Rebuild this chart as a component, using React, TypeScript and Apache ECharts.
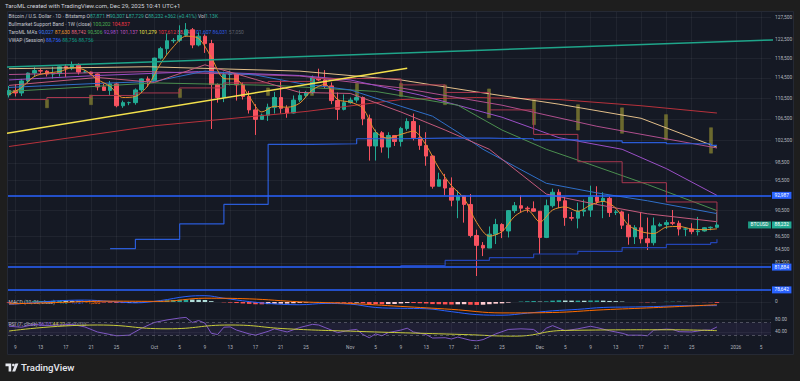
import React, { useEffect, useRef } from 'react';
import * as echarts from 'echarts';

const FONT = 'Roboto, "Noto Sans", sans-serif';
const FIRST_DAY = '2025-09-08';

// Daily OHLC (thousand USD) from FIRST_DAY to 2025-12-29
const opens = [
  111.1, 112.0, 111.5, 113.9, 115.5, 116.0, 115.9, 115.3, 115.4, 116.8, 116.5, 117.1, 115.7, 115.7, 115.3, 112.7, 112.0, 113.3, 109.0, 109.6, 109.6, 112.1, 114.3,
  114.0, 118.6, 120.6, 122.3, 122.4, 123.5, 124.7, 121.4, 123.3, 121.7, 113.2, 110.6, 115.2, 115.3, 113.1, 110.8, 108.2, 106.4, 107.2, 108.7, 110.6, 108.5, 107.6, 110.1, 111.0, 111.6, 114.5, 114.1, 112.9, 110.0, 108.3,
  109.6, 110.1, 110.6, 106.5, 101.5, 103.9, 101.3, 103.4, 102.3, 104.7, 106.0, 103.0, 101.6, 99.7, 94.5, 95.6, 94.2, 92.2, 92.9, 91.5, 86.6, 85.1, 84.7, 86.8, 88.3, 87.3, 90.5, 91.3, 90.9, 90.8,
  90.4, 86.3, 91.3, 93.5, 92.1, 89.4, 89.3, 90.4, 90.6, 92.7, 92.0, 92.5, 90.2, 90.3, 88.2, 86.4, 87.8, 86.1, 85.5, 88.1, 88.3, 88.6, 88.5, 87.6, 87.6, 87.2, 87.3, 87.8, 87.871,
];
const highs = [
  112.9, 113.2, 114.3, 115.6, 116.7, 116.4, 116.1, 116.8, 117.0, 117.3, 117.9, 117.5, 116.1, 115.8, 115.4, 113.3, 113.9, 113.5, 110.0, 109.8, 112.4, 114.4, 114.8,
  118.7, 121.0, 123.9, 122.9, 125.7, 126.2, 125.1, 124.1, 123.7, 122.5, 113.4, 115.8, 116.0, 115.4, 113.6, 111.9, 109.3, 107.5, 109.4, 111.7, 114.0, 109.1, 111.0, 112.0, 111.9, 115.0, 116.4, 116.1, 113.6, 111.6, 111.2,
  110.6, 111.2, 110.8, 107.3, 104.5, 104.2, 104.0, 103.4, 105.0, 106.6, 107.5, 105.3, 104.0, 99.8, 96.8, 96.6, 96.0, 93.8, 92.9, 93.2, 87.5, 85.6, 88.0, 89.2, 88.5, 90.6, 91.9, 93.0, 91.2, 92.0,
  90.4, 92.3, 94.1, 94.0, 92.7, 90.3, 91.8, 92.3, 94.6, 94.5, 93.5, 92.8, 90.6, 90.5, 90.0, 88.2, 90.3, 89.4, 89.4, 88.6, 89.0, 90.6, 88.9, 87.9, 88.5, 89.5, 87.9, 88.0, 90.307,
];
const lows = [
  110.6, 110.8, 110.9, 113.4, 114.7, 115.2, 114.8, 114.4, 114.8, 114.7, 116.1, 115.2, 115.5, 115.2, 112.0, 111.9, 111.1, 108.7, 108.6, 109.1, 109.2, 111.6, 112.7,
  113.9, 118.3, 119.3, 121.8, 122.0, 123.2, 120.7, 121.1, 119.7, 104.6, 109.6, 109.7, 113.0, 110.0, 110.2, 107.5, 103.5, 106.4, 106.1, 107.5, 107.5, 106.7, 107.5, 109.7, 110.7, 111.3, 113.9, 112.3, 109.3, 106.3, 108.1,
  109.4, 109.6, 105.3, 98.9, 98.9, 100.3, 99.3, 101.5, 101.4, 104.3, 102.5, 100.8, 98.0, 94.1, 94.5, 93.0, 91.2, 89.3, 88.6, 86.3, 80.6, 83.5, 84.7, 85.3, 86.2, 86.3, 90.1, 90.2, 90.2, 90.3,
  83.8, 86.2, 91.0, 90.9, 88.1, 88.9, 87.7, 89.6, 89.5, 91.6, 89.3, 89.5, 89.8, 87.6, 85.2, 85.3, 85.4, 84.4, 85.1, 88.0, 87.6, 88.2, 86.6, 86.5, 86.8, 86.6, 87.2, 87.4, 87.729,
];
const closes = [
  112.0, 111.5, 113.9, 115.5, 116.0, 115.9, 115.3, 115.4, 116.8, 116.5, 117.1, 115.7, 115.7, 115.3, 112.7, 112.0, 113.3, 109.0, 109.6, 109.6, 112.1, 114.3, 114.0,
  118.6, 120.6, 122.3, 122.4, 123.5, 124.7, 121.4, 123.3, 121.7, 113.2, 110.6, 115.2, 115.3, 113.1, 110.8, 108.2, 106.4, 107.2, 108.7, 110.6, 108.5, 107.6, 110.1, 111.0, 111.6, 114.5, 114.1, 112.9, 110.0, 108.3, 109.6,
  110.1, 110.6, 106.5, 101.5, 103.9, 101.3, 103.4, 102.3, 104.7, 106.0, 103.0, 101.6, 99.7, 94.5, 95.6, 94.2, 92.2, 92.9, 91.5, 86.6, 85.1, 84.7, 86.8, 88.3, 87.3, 90.5, 91.3, 90.9, 90.8, 90.4,
  86.3, 91.3, 93.5, 92.1, 89.4, 89.3, 90.4, 90.6, 92.7, 92.0, 92.5, 90.2, 90.3, 88.2, 86.4, 87.8, 86.1, 85.5, 88.1, 88.3, 88.6, 88.5, 87.6, 87.6, 87.2, 87.3, 87.8, 87.871, 88.232,
];

// Moving averages (thousand USD)
const maOrange: [string, number][] = [
  ['2025-09-08', 111.2], ['2025-09-10', 112.6], ['2025-09-12', 114.8], ['2025-09-14', 115.5], ['2025-09-16', 115.8], ['2025-09-18', 116.6], ['2025-09-20', 116.1], ['2025-09-22', 114.2], ['2025-09-24', 112.8], ['2025-09-26', 110.6], ['2025-09-28', 110.8], ['2025-09-30', 113.0],
  ['2025-10-02', 117.5], ['2025-10-04', 121.0], ['2025-10-06', 123.3], ['2025-10-08', 122.8], ['2025-10-10', 118.8], ['2025-10-12', 114.4], ['2025-10-14', 114.2], ['2025-10-16', 110.8], ['2025-10-18', 107.8], ['2025-10-20', 108.9], ['2025-10-22', 108.7], ['2025-10-24', 109.5], ['2025-10-26', 112.1], ['2025-10-28', 113.2], ['2025-10-30', 110.2],
  ['2025-11-01', 109.7], ['2025-11-03', 108.5], ['2025-11-05', 104.1], ['2025-11-07', 102.9], ['2025-11-09', 103.6], ['2025-11-11', 104.2], ['2025-11-13', 101.6], ['2025-11-15', 97.6], ['2025-11-17', 94.6], ['2025-11-19', 92.5], ['2025-11-21', 88.6], ['2025-11-23', 86.5], ['2025-11-25', 87.2], ['2025-11-27', 89.6], ['2025-11-29', 90.6],
  ['2025-12-01', 88.7], ['2025-12-03', 90.6], ['2025-12-05', 91.1], ['2025-12-07', 90.4], ['2025-12-09', 91.4], ['2025-12-11', 92.0], ['2025-12-13', 90.9], ['2025-12-15', 88.2], ['2025-12-17', 87.2], ['2025-12-19', 86.9], ['2025-12-21', 87.9], ['2025-12-23', 88.0], ['2025-12-25', 87.6], ['2025-12-27', 87.5], ['2025-12-29', 87.63],
];
const maBlue: [string, number][] = [
  ['2025-09-08', 112.6], ['2025-09-22', 113.4], ['2025-10-01', 113.8], ['2025-10-09', 115.9], ['2025-10-17', 115.1], ['2025-10-24', 113.4], ['2025-11-01', 112.1], ['2025-11-09', 108.9], ['2025-11-14', 107.0], ['2025-11-18', 104.0], ['2025-11-22', 100.9], ['2025-12-02', 95.0], ['2025-12-10', 93.4], ['2025-12-18', 92.1], ['2025-12-29', 90.027],
];
const maPink: [string, number][] = [
  ['2025-09-08', 113.0], ['2025-09-22', 114.6], ['2025-10-01', 113.6], ['2025-10-09', 117.2], ['2025-10-17', 114.2], ['2025-10-24', 111.6], ['2025-11-01', 111.4], ['2025-11-09', 107.8], ['2025-11-16', 104.4], ['2025-11-23', 100.9], ['2025-12-02', 93.2], ['2025-12-10', 91.5], ['2025-12-18', 90.0], ['2025-12-29', 88.742],
];
const maGreen: [string, number][] = [
  ['2025-09-08', 111.8], ['2025-10-01', 113.5], ['2025-10-20', 113.0], ['2025-11-05', 111.8], ['2025-11-18', 109.1], ['2025-11-25', 104.4], ['2025-12-02', 100.9], ['2025-12-08', 98.6], ['2025-12-18', 94.8], ['2025-12-29', 90.506],
];
const maPurple: [string, number][] = [
  ['2025-09-08', 114.1], ['2025-09-22', 115.0], ['2025-10-08', 115.8], ['2025-10-24', 115.0], ['2025-11-01', 114.1], ['2025-11-12', 111.1], ['2025-11-25', 106.8], ['2025-12-04', 103.0], ['2025-12-14', 100.9], ['2025-12-21', 97.5], ['2025-12-29', 92.981],
];
const maMagenta: [string, number][] = [
  ['2025-09-08', 115.2], ['2025-09-30', 115.8], ['2025-10-24', 114.9], ['2025-11-09', 112.5], ['2025-11-25', 109.1], ['2025-12-10', 105.1], ['2025-12-29', 101.137],
];
const maPeach: [string, number][] = [
  ['2025-09-08', 116.4], ['2025-09-30', 116.8], ['2025-10-24', 115.9], ['2025-11-09', 114.1], ['2025-11-21', 111.7], ['2025-12-04', 109.3], ['2025-12-17', 106.6], ['2025-12-29', 101.279],
];
const maRed: [string, number][] = [
  ['2025-09-08', 101.4], ['2025-10-01', 105.2], ['2025-10-25', 107.9], ['2025-11-09', 110.2], ['2025-11-21', 110.6], ['2025-12-04', 110.2], ['2025-12-17', 109.0], ['2025-12-29', 107.6],
];
// weekly (stepped) lines
const maMaroonW: [string, number][] = [
  ['2025-09-08', 110.2], ['2025-09-14', 110.6], ['2025-09-21', 111.0], ['2025-09-28', 111.5], ['2025-10-05', 112.5], ['2025-10-12', 113.5], ['2025-10-19', 113.8], ['2025-10-26', 114.4], ['2025-11-02', 114.3], ['2025-11-09', 113.1], ['2025-11-16', 111.6], ['2025-11-23', 108.2], ['2025-11-30', 103.6], ['2025-12-07', 98.7], ['2025-12-14', 95.1], ['2025-12-21', 91.9], ['2025-12-29', 88.642],
];
const blueStepUpper: [string, number][] = [
  ['2025-09-24', 84.6], ['2025-09-28', 86.0], ['2025-10-05', 88.4], ['2025-10-12', 91.5], ['2025-10-19', 101.8], ['2025-10-26', 101.9], ['2025-11-02', 102.8], ['2025-11-09', 102.9], ['2025-11-16', 102.9], ['2025-11-23', 102.8], ['2025-11-30', 102.6], ['2025-12-07', 102.4], ['2025-12-14', 102.1], ['2025-12-21', 101.9], ['2025-12-28', 101.607], ['2025-12-29', 101.607],
];
const blueStepLower: [string, number][] = [
  ['2025-11-02', 81.9], ['2025-11-09', 82.09], ['2025-11-16', 82.86], ['2025-11-23', 83.26], ['2025-11-30', 83.81], ['2025-12-07', 84.21], ['2025-12-14', 84.76], ['2025-12-21', 85.26], ['2025-12-28', 85.5], ['2025-12-29', 86.031],
];
// Bull market support band, weekly [date, low, high]
const bmsb: [string, number, number][] = [
  ['2025-09-14', 108.6, 110.2], ['2025-09-21', 109.2, 111.1], ['2025-09-28', 109.8, 111.6], ['2025-10-05', 110.6, 112.3], ['2025-10-12', 110.9, 112.6], ['2025-10-19', 111.0, 112.5], ['2025-10-26', 111.0, 112.8], ['2025-11-02', 110.8, 113.4],
  ['2025-11-09', 110.8, 113.4], ['2025-11-16', 109.2, 113.1], ['2025-11-23', 106.7, 112.3], ['2025-11-30', 105.4, 110.2], ['2025-12-07', 104.4, 109.2], ['2025-12-14', 103.8, 108.6], ['2025-12-21', 102.6, 107.3], ['2025-12-28', 100.202, 104.837],
];
// drawn trend lines [date, price]
const tealTrend: [string, number][] = [['2025-09-07', 116710], ['2026-01-07', 122490]];
const yellowTrend: [string, number][] = [['2025-09-07', 103690], ['2025-11-10', 116510]];
const levelLines = [92987, 81884, 78642];
const lastPrice = 88232;
const priceTicks = [127500, 122500, 118500, 114500, 110500, 106500, 102500, 98500, 95500, 90500, 86500, 84500, 82500];

// MACD (USD)
const macdLine: [string, number][] = [
  ['2025-09-08', -1200], ['2025-09-12', -300], ['2025-09-16', 600], ['2025-09-20', 900], ['2025-09-24', 300], ['2025-09-28', -400], ['2025-10-02', 700], ['2025-10-06', 2600], ['2025-10-09', 3000], ['2025-10-12', 1800], ['2025-10-16', 200], ['2025-10-20', -900], ['2025-10-24', -1300], ['2025-10-28', -700],
  ['2025-11-01', -1000], ['2025-11-05', -2600], ['2025-11-09', -3000], ['2025-11-13', -3200], ['2025-11-17', -4600], ['2025-11-21', -6000], ['2025-11-25', -6300], ['2025-11-29', -5300], ['2025-12-03', -4200], ['2025-12-07', -3500], ['2025-12-11', -2600], ['2025-12-15', -2400], ['2025-12-19', -2200], ['2025-12-23', -1800], ['2025-12-29', -1721],
];
const macdSignal: [string, number][] = [
  ['2025-09-08', -900], ['2025-09-16', -200], ['2025-09-24', 400], ['2025-10-02', 300], ['2025-10-09', 1800], ['2025-10-16', 1500], ['2025-10-24', 100], ['2025-11-01', -700], ['2025-11-09', -2100], ['2025-11-17', -3500], ['2025-11-25', -5200], ['2025-12-03', -5000], ['2025-12-11', -3700], ['2025-12-19', -2700], ['2025-12-29', -1305],
];
const macdHist = [
  -300, -150, 50, 200, 350, 450, 500, 550, 600, 550, 500, 400, 300, 150, -100, -250, -300, -450, -500, -450, -300, -150, 0,
  250, 500, 800, 950, 1100, 1200, 1150, 1050, 950, 400, 0, -150, -300, -500, -700, -900, -1100, -1100, -1000, -850, -800, -750, -600, -450, -300, -100, 50, 0, -150, -300, -350,
  -350, -300, -600, -1000, -1000, -1100, -1000, -950, -700, -500, -500, -600, -700, -1000, -1050, -1150, -1200, -1100, -1050, -1300, -1400, -1300, -1050, -800, -650, -300, 0, 200, 350, 450,
  200, 300, 650, 800, 700, 650, 650, 600, 700, 700, 650, 500, 400, 200, 0, 0, -100, -200, -100, 0, 100, 150, 100, 50, 0, -50, -100, -150, -416,
];

// RSI (7) and its average
const rsi: [string, number][] = [
  ['2025-09-08', 58], ['2025-09-10', 55], ['2025-09-12', 64], ['2025-09-14', 60], ['2025-09-16', 62], ['2025-09-18', 64], ['2025-09-20', 56], ['2025-09-22', 40], ['2025-09-23', 36], ['2025-09-25', 28], ['2025-09-27', 30], ['2025-09-29', 52],
  ['2025-10-01', 70], ['2025-10-03', 78], ['2025-10-05', 84], ['2025-10-06', 86], ['2025-10-07', 70], ['2025-10-08', 76], ['2025-10-09', 68], ['2025-10-10', 36], ['2025-10-11', 32], ['2025-10-12', 55], ['2025-10-13', 56], ['2025-10-14', 46], ['2025-10-15', 40], ['2025-10-16', 34], ['2025-10-17', 30], ['2025-10-19', 42], ['2025-10-20', 50], ['2025-10-22', 40], ['2025-10-24', 54], ['2025-10-26', 64], ['2025-10-27', 62], ['2025-10-28', 54], ['2025-10-30', 38],
  ['2025-11-01', 46], ['2025-11-02', 48], ['2025-11-03', 32], ['2025-11-04', 22], ['2025-11-05', 34], ['2025-11-06', 28], ['2025-11-07', 38], ['2025-11-09', 46], ['2025-11-10', 52], ['2025-11-11', 40], ['2025-11-13', 32], ['2025-11-14', 21], ['2025-11-16', 22], ['2025-11-17', 18], ['2025-11-18', 24], ['2025-11-20', 14], ['2025-11-21', 12], ['2025-11-22', 16], ['2025-11-24', 34], ['2025-11-26', 48], ['2025-11-28', 50], ['2025-11-30', 48],
  ['2025-12-01', 33], ['2025-12-02', 52], ['2025-12-03', 60], ['2025-12-05', 44], ['2025-12-07', 50], ['2025-12-09', 58], ['2025-12-10', 54], ['2025-12-12', 44], ['2025-12-14', 36], ['2025-12-15', 30], ['2025-12-17', 30], ['2025-12-18', 28], ['2025-12-19', 46], ['2025-12-21', 49], ['2025-12-22', 48], ['2025-12-23', 41], ['2025-12-25', 40], ['2025-12-27', 46], ['2025-12-28', 46], ['2025-12-29', 56.03],
];
const rsiMA: [string, number][] = [
  ['2025-09-08', 43], ['2025-09-22', 62], ['2025-10-03', 50], ['2025-10-13', 62], ['2025-10-22', 50], ['2025-11-02', 42], ['2025-11-19', 32], ['2025-11-27', 27], ['2025-12-05', 45], ['2025-12-21', 47], ['2025-12-29', 44.22],
];

const tickDates = [
  '2025-09-09', '2025-09-13', '2025-09-17', '2025-09-21', '2025-09-25', '2025-10-01', '2025-10-05', '2025-10-09', '2025-10-13', '2025-10-17', '2025-10-21', '2025-10-25',
  '2025-11-01', '2025-11-05', '2025-11-09', '2025-11-13', '2025-11-17', '2025-11-21', '2025-11-25', '2025-12-01', '2025-12-05', '2025-12-09', '2025-12-13', '2025-12-17', '2025-12-21', '2025-12-25', '2026-01-01', '2026-01-05',
];
const tickLabels = ['9', '13', '17', '21', '25', 'Oct', '5', '9', '13', '17', '21', '25', 'Nov', '5', '9', '13', '17', '21', '25', 'Dec', '5', '9', '13', '17', '21', '25', '2026', '5'];

const T0 = Date.UTC(2025, 8, 9);
function dayIdx(s: string): number {
  const [y, m, d] = s.split('-').map(Number);
  return (Date.UTC(y, m - 1, d) - T0) / 86400000;
}
const fmt = (v: number) => Math.round(v).toLocaleString('en-US');

const GRID = 'rgba(255,255,255,0.05)';
const LBL = '#b2b5be';
const UP = '#22ab94';
const DOWN = '#f7525f';
const OLIVE = 'rgba(122,120,48,0.85)';

function rich(parts: [string, string][], size = 5) {
  const r: any = {};
  const text = parts
    .map(([t, c], i) => {
      r['p' + i] = { fill: c, fontSize: size, fontFamily: FONT };
      return `{p${i}|${t}}`;
    })
    .join('');
  return { text, rich: r };
}

export default function App() {
  const ref = useRef<HTMLDivElement>(null);
  useEffect(() => {
    const chart = echarts.init(ref.current!, undefined, { renderer: 'svg' });
    const X0 = -1.155;
    const X1 = 119.55;
    const tickVals = tickDates.map(dayIdx);
    const d0 = dayIdx(FIRST_DAY);
    const candleData = closes.map((c, i) => [d0 + i, opens[i] * 1000, c * 1000, lows[i] * 1000, highs[i] * 1000]);
    const bandData = bmsb.map(([d, lo, hi]) => [dayIdx(d), lo * 1000, hi * 1000, lo * 1000, hi * 1000]);
    const k = (arr: [string, number][]) => arr.map(([d, v]) => [dayIdx(d), v * 1000]);
    const raw = (arr: [string, number][]) => arr.map(([d, v]) => [dayIdx(d), v]);

    const mkLine = (data: any[], color: string, extra: any = {}) => ({
      type: 'line',
      xAxisIndex: 0,
      yAxisIndex: 0,
      data,
      symbol: 'none',
      showSymbol: false,
      silent: true,
      z: 4,
      lineStyle: { color, width: 1 },
      ...extra,
    });

    const xAxisBase = (gi: number, showLabels: boolean) => ({
      type: 'value',
      gridIndex: gi,
      min: X0,
      max: X1,
      axisLine: { show: false },
      axisTick: { show: false, customValues: tickVals },
      splitLine: { show: true, lineStyle: { color: GRID, width: 1 } },
      axisLabel: {
        show: showLabels,
        customValues: tickVals,
        color: LBL,
        fontSize: 4.8,
        fontFamily: FONT,
        margin: 4,
        formatter: (v: number) => {
          const i = tickVals.findIndex((t) => Math.abs(t - v) < 0.01);
          return i >= 0 ? tickLabels[i] : '';
        },
      },
    });

    const histColors = macdHist.map((v, i) => {
      const p = i > 0 ? macdHist[i - 1] : v;
      if (v >= 0) return v >= p ? '#26a69a' : '#b2dfdb';
      return v <= p ? '#ff5252' : '#ffcdd2';
    });

    const graphics: any[] = [
      { type: 'rect', id: 'panel', z: -10, shape: { x: 7.5, y: 11.5, width: 786, height: 343 }, style: { fill: '#151924', stroke: '#252934', lineWidth: 1 } },
      { type: 'text', id: 'hdr', x: 5, y: 5, z: 10, style: { text: 'TaroML created with TradingView.com, Dec 29, 2025 10:41 UTC+1', fill: '#d1d4dc', fontSize: 6, fontFamily: FONT, verticalAlign: 'middle' } },
      { type: 'text', id: 'lg1', x: 8.5, y: 16.3, z: 1, style: { ...rich([['Bitcoin / U.S. Dollar · 1D · Bitstamp ', '#c3c6ce'], ['O', '#c3c6ce'], ['87,871 ', UP], ['H', '#c3c6ce'], ['90,307 ', UP], ['L', '#c3c6ce'], ['87,729 ', UP], ['C', '#c3c6ce'], ['88,232 ', UP], ['+362 (+0.41%) ', UP], ['Vol', '#c3c6ce'], ['1.13K', UP]]), verticalAlign: 'middle' } },
      { type: 'text', id: 'lg2', x: 8.5, y: 24.2, z: 1, style: { ...rich([['Bullmarket Support Band · 1W (close) ', '#c3c6ce'], ['100,202 ', '#4caf50'], ['104,837', '#f23645']]), verticalAlign: 'middle' } },
      { type: 'text', id: 'lg3', x: 8.5, y: 32.4, z: 1, style: { ...rich([["TaroML MA's ", '#c3c6ce'], ['90,027 ', '#3d7bf0'], ['87,630 ', '#f0962e'], ['88,742 ', '#e0647f'], ['90,506 ', '#4fae55'], ['92,981 ', '#a64fd6'], ['101,137 ', '#c154c1'], ['101,279 ', '#ebe04a'], ['107,612 ', '#f23645'], ['88,642 ', '#e35f7a'], ['101,607 ', '#3468f0'], ['86,031 ', '#2f5ae0'], ['57,050', '#5d606b']]), verticalAlign: 'middle' } },
      { type: 'text', id: 'lg4', x: 8.5, y: 40.4, z: 1, style: { ...rich([['VWAP (Session) ', '#c3c6ce'], ['88,756 ', '#2962ff'], ['88,756 ', '#089981'], ['88,756', '#089981']]), verticalAlign: 'middle' } },
      { type: 'text', id: 'lgm', x: 8.5, y: 302, z: 1, style: { ...rich([['MACD (12, 26, close) ', '#c3c6ce'], ['−416 ', '#26a69a'], ['−1,721 ', '#2962ff'], ['−1,305', '#ff6d00']]), verticalAlign: 'middle' } },
      { type: 'text', id: 'lgr', x: 8.5, y: 323.5, z: 1, style: { ...rich([['RSI (7, close) ', '#c3c6ce'], ['56.03 ', '#9c6fe0'], ['44.22 ', '#e6e03c'], ['∅ ∅ ∅ ∅', '#c3c6ce']]), verticalAlign: 'middle' } },
      { type: 'polygon', id: 'tv1', z: 10, shape: { points: [[5.5, 363.6], [11.2, 363.6], [11.2, 371.6], [8.6, 371.6], [8.6, 366.2], [5.5, 366.2]] }, style: { fill: '#e6e8ee' } },
      { type: 'circle', id: 'tv2', z: 10, shape: { cx: 13.4, cy: 365, r: 1.35 }, style: { fill: '#e6e8ee' } },
      { type: 'polygon', id: 'tv3', z: 10, shape: { points: [[15.4, 363.6], [18.4, 363.6], [15.2, 371.6], [12.2, 371.6]] }, style: { fill: '#e6e8ee' } },
      { type: 'text', id: 'tvt', x: 21, y: 367.8, z: 10, style: { text: 'TradingView', fill: '#e6e8ee', fontSize: 9.6, fontWeight: 500, fontFamily: FONT, verticalAlign: 'middle' } },
    ];

    const option: any = {
      animation: false,
      backgroundColor: '#1e1e1e',
      textStyle: { fontFamily: FONT },
      grid: [
        { left: 8, right: 29, top: 12, height: 282 },
        { left: 8, right: 29, top: 295, height: 22 },
        { left: 8, right: 29, top: 317, height: 24 },
      ],
      xAxis: [xAxisBase(0, false), xAxisBase(1, false), xAxisBase(2, true)],
      yAxis: [
        { type: 'log', logBase: 10, gridIndex: 0, min: 78070, max: 128704, position: 'right', axisLine: { show: false }, axisTick: { show: false }, axisLabel: { show: false }, splitLine: { show: false } },
        {
          type: 'value', gridIndex: 1, min: -7143, max: 3333, position: 'right', axisLine: { show: false },
          axisTick: { show: false, customValues: [0] }, splitLine: { show: true, lineStyle: { color: GRID } },
          axisLabel: { customValues: [0], color: LBL, fontSize: 4.8, margin: 4, formatter: () => '0' },
        },
        {
          type: 'value', gridIndex: 2, min: 11.65, max: 87.2, position: 'right', axisLine: { show: false },
          axisTick: { show: false, customValues: [40, 80] }, splitLine: { show: true, lineStyle: { color: GRID } },
          axisLabel: { customValues: [40, 80], color: LBL, fontSize: 4.8, margin: 4, formatter: (v: number) => v.toFixed(2) },
        },
      ],
      graphic: { elements: graphics },
      series: [
        {
          type: 'candlestick', name: 'BMSB', xAxisIndex: 0, yAxisIndex: 0, data: bandData, barWidth: 3.5, z: 2, silent: true,
          itemStyle: { color: OLIVE, color0: OLIVE, borderColor: OLIVE, borderColor0: OLIVE, borderWidth: 0.5 },
          markLine: {
            silent: true, symbol: ['none', 'none'], animation: false,
            lineStyle: { color: GRID, width: 1, type: 'solid' },
            label: { position: 'end', distance: 4, formatter: '{b}', color: LBL, fontSize: 4.8, fontFamily: FONT },
            data: priceTicks.map((p) => ({ yAxis: p, name: fmt(p) })),
          },
        },
        {
          type: 'candlestick', name: 'BTCUSD', xAxisIndex: 0, yAxisIndex: 0, data: candleData, barWidth: 4, z: 3, silent: true,
          itemStyle: { color: UP, color0: DOWN, borderColor: UP, borderColor0: DOWN, borderWidth: 1 },
          markLine: {
            silent: true, symbol: ['none', 'none'], animation: false,
            lineStyle: { color: 'rgba(0,0,0,0)', width: 0.5 },
            label: { show: true, position: 'end', distance: 1, formatter: '{b}', color: '#ffffff', backgroundColor: UP, padding: [1, 2.5], fontSize: 4.8, fontFamily: FONT },
            data: [{ yAxis: lastPrice, name: fmt(lastPrice) }],
          },
        },
        mkLine(k(maRed), '#b8323c'),
        mkLine(k(maPeach), '#e3bf8a'),
        mkLine(k(maMagenta), '#b04f8e'),
        mkLine(k(maPurple), '#9a4fc6'),
        mkLine(k(maGreen), '#4b8f4f'),
        mkLine(k(maBlue), '#2f6fc9'),
        mkLine(k(maPink), '#c45a7c'),
        mkLine(k(maMaroonW), '#a8374f', { step: 'end' }),
        mkLine(k(blueStepUpper), '#2a5bd7', { step: 'end', lineStyle: { color: '#2a5bd7', width: 1.2 } }),
        mkLine(k(blueStepLower), '#2344b5', { step: 'end', lineStyle: { color: '#2344b5', width: 1.2 } }),
        mkLine(k(maOrange), '#e8912d', { smooth: 0.3 }),
        mkLine(
          tealTrend.map(([d, v]) => [dayIdx(d), v]),
          '#1fa58a',
          { lineStyle: { color: '#1fa58a', width: 1.5 }, z: 5 }
        ),
        mkLine(
          yellowTrend.map(([d, v]) => [dayIdx(d), v]),
          '#f3e04c',
          {
            lineStyle: { color: '#f3e04c', width: 1.5 },
            z: 5,
            markLine: {
              silent: true, symbol: ['none', 'none'], animation: false,
              lineStyle: { color: '#2962ff', width: 1.6, type: 'solid' },
              label: { position: 'end', distance: 1, formatter: '{b}', color: '#ffffff', backgroundColor: '#2962ff', padding: [1, 2.5], fontSize: 4.8, fontFamily: FONT },
              data: levelLines.map((p) => ({ yAxis: p, name: fmt(p) })),
            },
          }
        ),
        {
          type: 'bar', xAxisIndex: 1, yAxisIndex: 1, barWidth: 4.5, silent: true, z: 2,
          data: macdHist.map((v, i) => ({ value: [d0 + i, v], itemStyle: { color: histColors[i] } })),
        },
        { type: 'line', xAxisIndex: 1, yAxisIndex: 1, data: raw(macdLine), symbol: 'none', smooth: 0.4, silent: true, z: 3, lineStyle: { color: '#2962ff', width: 1 } },
        { type: 'line', xAxisIndex: 1, yAxisIndex: 1, data: raw(macdSignal), symbol: 'none', smooth: 0.4, silent: true, z: 3, lineStyle: { color: '#ff6d00', width: 1 } },
        {
          type: 'line', xAxisIndex: 2, yAxisIndex: 2, data: raw(rsi), symbol: 'none', silent: true, z: 3, lineStyle: { color: '#7e57c2', width: 1 },
          markArea: { silent: true, itemStyle: { color: 'rgba(126,87,194,0.1)' }, data: [[{ yAxis: 30 }, { yAxis: 70 }]] },
          markLine: {
            silent: true, symbol: ['none', 'none'], animation: false, label: { show: false },
            lineStyle: { color: 'rgba(120,123,134,0.7)', width: 0.8, type: [3, 3] },
            data: [{ yAxis: 70 }, { yAxis: 30 }],
          },
        },
        { type: 'line', xAxisIndex: 2, yAxisIndex: 2, data: raw(rsiMA), symbol: 'none', smooth: 0.5, silent: true, z: 3, lineStyle: { color: '#c8cc3b', width: 1 } },
      ],
    };

    chart.setOption(option);
    const py = chart.convertToPixel({ yAxisIndex: 0 }, lastPrice) as number;
    graphics.push({
      type: 'text', id: 'btcusd', x: 771, y: py, z: 20,
      style: { text: 'BTCUSD', fill: '#ffffff', fontSize: 4.8, fontFamily: FONT, backgroundColor: '#1e9a84', padding: [1, 2.5], align: 'right', verticalAlign: 'middle' },
    });
    chart.setOption(option, true);
    return () => chart.dispose();
  }, []);
  return <div ref={ref} style={{ position: 'fixed', left: 0, top: 0, width: 800, height: 381 }} />;
}
